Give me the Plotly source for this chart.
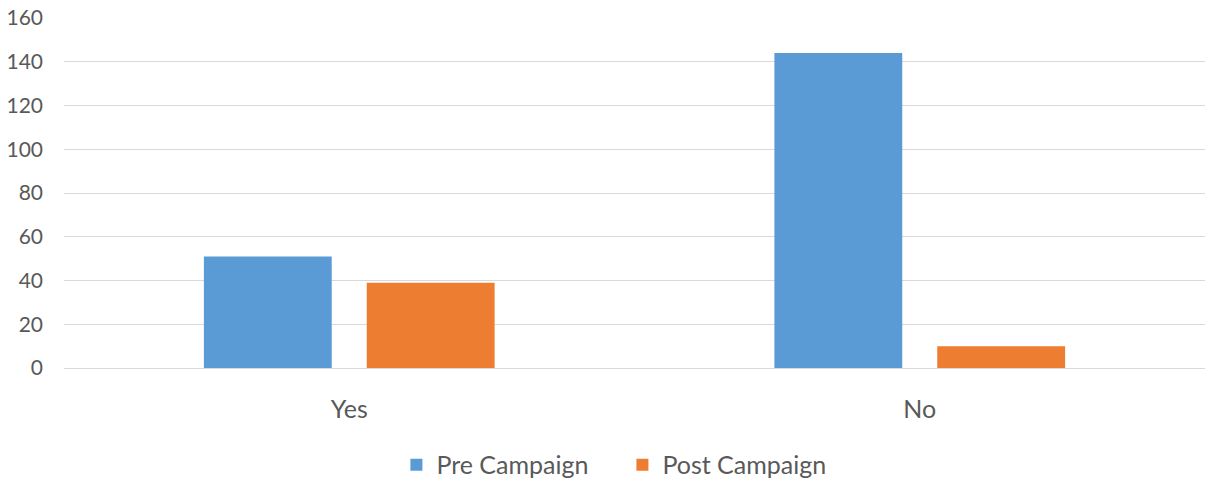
import plotly.graph_objects as go

categories = ["Yes", "No"]
pre_campaign = [51, 144]
post_campaign = [39, 10]
y_ticks = [0, 20, 40, 60, 80, 100, 120, 140, 160]

FONT = "Lato"
GRAY = "#595959"

fig = go.Figure()
fig.add_trace(go.Bar(x=categories, y=pre_campaign, name="Pre Campaign",
                     marker=dict(color="#5b9bd5", line=dict(width=0))))
fig.add_trace(go.Bar(x=categories, y=post_campaign, name="Post Campaign",
                     marker=dict(color="#ed7d31", line=dict(width=0))))

fig.update_layout(
    width=1207, height=480,
    margin=dict(l=64, r=2, t=18, b=112, autoexpand=False),
    paper_bgcolor="white", plot_bgcolor="white",
    barmode="group", bargap=0.429, bargroupgap=0.215,
    font=dict(family=FONT, color=GRAY, size=21),
    showlegend=True,
    legend=dict(orientation="h", x=0.4894, xanchor="center", y=-0.277, yanchor="middle",
                font=dict(size=25, color=GRAY), itemwidth=30, entrywidth=181,
                traceorder="normal"),
)
fig.update_yaxes(range=[0, 160], tickvals=y_ticks, showgrid=True, gridcolor="#d9d9d9",
                 gridwidth=1.3, zeroline=True, zerolinecolor="#d9d9d9", zerolinewidth=1.3,
                 showline=False, ticks="", ticklabelstandoff=20, automargin=False,
                 tickfont=dict(size=21, color=GRAY))
fig.update_xaxes(showgrid=False, showline=False, ticks="", ticklabelstandoff=24,
                 automargin=False, tickfont=dict(size=25, color=GRAY))

post = ("document.body.style.margin='0';document.body.style.overflow='hidden';"
        "Plotly.Plots.resize(document.getElementById('{plot_id}'));")
fig.write_html("out.html", post_script=post, config={"displayModeBar": False})
